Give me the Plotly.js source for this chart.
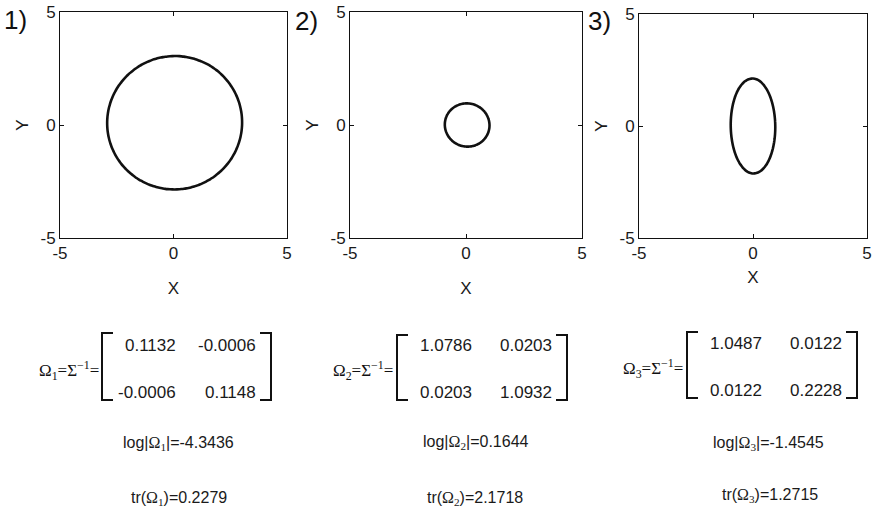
<!DOCTYPE html>
<html>
<head>
<meta charset="utf-8">
<script src="https://cdn.plot.ly/plotly-3.0.1.min.js"></script>
<style>html,body{margin:0;padding:0;background:#fff;}#chart{width:875px;height:512px;}</style>
</head>
<body>
<div id="chart"></div>
<script>
// ---- data ----
const panelLabels = ['1)', '2)', '3)'];
const omega11 = [0.1132, 1.0786, 1.0487];
const omega12 = [-0.0006, 0.0203, 0.0122];
const omega22 = [0.1148, 1.0932, 0.2228];
const omega11Text = ['0.1132', '1.0786', '1.0487'];
const omega12Text = ['-0.0006', '0.0203', '0.0122'];
const omega22Text = ['0.1148', '1.0932', '0.2228'];
const logDetText = ['-4.3436', '0.1644', '-1.4545'];
const traceText = ['0.2279', '2.1718', '1.2715'];
const centerX = [0.05, 0.05, 0.0];
const centerY = [0.1, 0.0, 0.0];
const axisTicks = [-5, 0, 5];

// ---- layout helpers (pixel -> paper) ----
const W = 875, H = 512;
const px = x => x / W;
const py = y => 1 - y / H;

// plot-area pixel boxes
const boxes = [
  {l: 60, r: 287, t: 12, b: 238},
  {l: 350, r: 582, t: 12, b: 238},
  {l: 639, r: 867, t: 14, b: 238}
];

// contour x' Omega x = 1 around the centre, sampled by angle
const traces = [];
for (let k = 0; k < 3; k++) {
  const xs = [], ys = [];
  for (let d = 0; d <= 360; d += 2) {
    const t = d * Math.PI / 180, c = Math.cos(t), s = Math.sin(t);
    const q = omega11[k] * c * c + 2 * omega12[k] * c * s + omega22[k] * s * s;
    const r = 1 / Math.sqrt(q);
    xs.push(centerX[k] + r * c);
    ys.push(centerY[k] + r * s);
  }
  traces.push({
    x: xs, y: ys, type: 'scatter', mode: 'lines',
    line: {color: '#111', width: 2.6, shape: 'spline'},
    xaxis: k === 0 ? 'x' : 'x' + (k + 1),
    yaxis: k === 0 ? 'y' : 'y' + (k + 1),
    showlegend: false, hoverinfo: 'skip'
  });
}

const font = {family: 'Liberation Sans, Arial, sans-serif', color: '#1a1a1a'};
const layout = {
  width: W, height: H,
  margin: {l: 0, r: 0, t: 0, b: 0},
  paper_bgcolor: '#fff', plot_bgcolor: '#fff',
  font: font, showlegend: false,
  annotations: [], shapes: []
};

const xStandoff = [19, 19, 8];
for (let k = 0; k < 3; k++) {
  const b = boxes[k];
  const sfx = k === 0 ? '' : String(k + 1);
  const common = {
    range: [-5, 5], tickvals: axisTicks, ticktext: axisTicks.map(String),
    ticks: 'inside', ticklen: 4, tickcolor: '#111', tickwidth: 1,
    showline: true, linecolor: '#111', linewidth: 1, mirror: 'ticks',
    showgrid: false, zeroline: false, fixedrange: true, automargin: false,
    tickfont: {family: font.family, size: 17, color: '#1a1a1a'}
  };
  layout['xaxis' + sfx] = Object.assign({}, common, {
    domain: [px(b.l), px(b.r)], anchor: 'y' + sfx,
    title: {text: 'X', font: {family: font.family, size: 17, color: '#1a1a1a'}, standoff: xStandoff[k]}
  });
  layout['yaxis' + sfx] = Object.assign({}, common, {
    domain: [py(b.b), py(b.t)], anchor: 'x' + sfx,
    title: {text: 'Y', font: {family: font.family, size: 17, color: '#1a1a1a'}, standoff: 7}
  });
}

// panel labels
const labelX = [2, 293, 586];
const labelY = [20, 21, 21];
for (let k = 0; k < 3; k++) {
  layout.annotations.push({
    text: panelLabels[k], xref: 'paper', yref: 'paper',
    x: px(labelX[k]), y: py(labelY[k]), xanchor: 'left', yanchor: 'middle',
    showarrow: false, font: {family: font.family, size: 26, color: '#111'}
  });
}

// matrices and statistics
const serif = 'Liberation Serif, Times New Roman, serif';
const omLabelRight = [101, 395, 685];
const omLabelY = [370, 370, 368];
const col1Right = [178, 474, 764];
const col2Right = [258, 554, 844];
const row1Y = [345, 345, 343];
const row2Y = [392, 392, 390];
const brL = [102, 397, 687];
const brR = [271, 567, 857];
const brT = [333, 335, 332];
const brB = [400, 400, 398];
const logX = [178, 476, 768], logY = [443, 442, 443];
const trX = [179, 475, 770], trY = [498, 498, 495];
const sub = ['1', '2', '3'];

for (let k = 0; k < 3; k++) {
  layout.annotations.push({
    text: 'Ω<sub>' + sub[k] + '</sub>=Σ<sup>−1</sup>=', xref: 'paper', yref: 'paper',
    x: px(omLabelRight[k]), y: py(omLabelY[k]), xanchor: 'right', yanchor: 'middle',
    showarrow: false, font: {family: serif, size: 17, color: '#111'}
  });
  const cells = [
    [omega11Text[k], col1Right[k], row1Y[k]],
    [omega12Text[k], col2Right[k], row1Y[k]],
    [omega12Text[k], col1Right[k], row2Y[k]],
    [omega22Text[k], col2Right[k], row2Y[k]]
  ];
  cells.forEach(c => layout.annotations.push({
    text: c[0], xref: 'paper', yref: 'paper', x: px(c[1]), y: py(c[2]),
    xanchor: 'right', yanchor: 'middle', showarrow: false,
    font: {family: font.family, size: 17, color: '#1a1a1a'}
  }));
  const sp = '<span style="font-family:Liberation Serif, Times New Roman, serif">Ω<sub>' + sub[k] + '</sub></span>';
  layout.annotations.push({
    text: 'log|' + sp + '|=' + logDetText[k], xref: 'paper', yref: 'paper',
    x: px(logX[k]), y: py(logY[k]), xanchor: 'center', yanchor: 'middle',
    showarrow: false, font: {family: font.family, size: 16, color: '#1a1a1a'}
  });
  layout.annotations.push({
    text: 'tr(' + sp + ')=' + traceText[k], xref: 'paper', yref: 'paper',
    x: px(trX[k]), y: py(trY[k]), xanchor: 'center', yanchor: 'middle',
    showarrow: false, font: {family: font.family, size: 16, color: '#1a1a1a'}
  });
  // brackets
  const s = 11;
  layout.shapes.push({
    type: 'path', xref: 'paper', yref: 'paper',
    path: 'M' + px(brL[k] + s) + ',' + py(brT[k]) + ' L' + px(brL[k]) + ',' + py(brT[k]) +
          ' L' + px(brL[k]) + ',' + py(brB[k]) + ' L' + px(brL[k] + s) + ',' + py(brB[k]),
    line: {color: '#111', width: 2}
  });
  layout.shapes.push({
    type: 'path', xref: 'paper', yref: 'paper',
    path: 'M' + px(brR[k] - s) + ',' + py(brT[k]) + ' L' + px(brR[k]) + ',' + py(brT[k]) +
          ' L' + px(brR[k]) + ',' + py(brB[k]) + ' L' + px(brR[k] - s) + ',' + py(brB[k]),
    line: {color: '#111', width: 2}
  });
}

Plotly.newPlot('chart', traces, layout, {displayModeBar: false, staticPlot: true});
</script>
</body>
</html>
